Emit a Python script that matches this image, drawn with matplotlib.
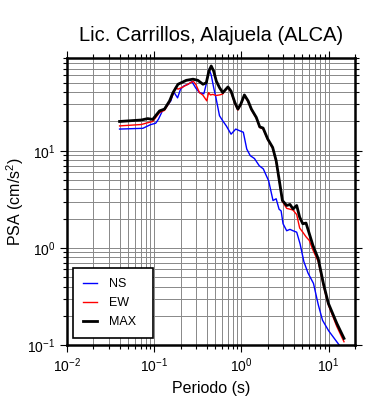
import numpy as np
import matplotlib.pyplot as plt

plt.rcParams['font.family'] = ['Liberation Sans', 'DejaVu Sans']
plt.rcParams['mathtext.fontset'] = 'custom'
plt.rcParams['mathtext.rm'] = 'Liberation Sans'
plt.rcParams['mathtext.it'] = 'Liberation Sans:italic'

# Espectros de respuesta (periodo en s, PSA en cm/s^2)
per_max = [0.040, 0.071, 0.084, 0.096, 0.115, 0.131, 0.150, 0.164, 0.187, 0.233,
           0.278, 0.316, 0.362, 0.395, 0.423, 0.450, 0.48, 0.515, 0.56, 0.61,
           0.70, 0.76, 0.84, 0.91, 0.98, 1.08, 1.19, 1.30, 1.48, 1.62,
           1.77, 2.0, 2.28, 2.5, 2.72, 2.95, 3.3, 3.6, 3.9, 4.3,
           4.65, 5.05, 5.5, 6.0, 6.6, 7.6, 8.7, 9.9, 12.4, 15.0]
psa_max = [20.0, 20.7, 21.4, 21.0, 25.7, 26.8, 32.6, 39.6, 48.3, 53.0,
           54.5, 53.0, 48.3, 50.0, 66.0, 74.5, 66.0, 52.0, 44.6, 39.6,
           45.3, 41.0, 31.3, 26.8, 30.0, 37.5, 32.6, 26.8, 22.0, 17.6,
           17.1, 13.2, 10.8, 7.9, 4.9, 3.07, 2.73, 2.8, 2.52, 2.73,
           2.07, 1.77, 1.8, 1.40, 1.06, 0.77, 0.43, 0.27, 0.167, 0.117]

per_ew = [0.040, 0.071, 0.084, 0.096, 0.115, 0.131, 0.150, 0.164, 0.175, 0.187,
          0.21, 0.24, 0.28, 0.30, 0.33, 0.36, 0.40, 0.42, 0.44, 0.47,
          0.51, 0.56, 0.61, 0.65, 0.70, 0.76, 0.84, 0.91, 0.98, 1.08,
          1.19, 1.30, 1.48, 1.62, 1.77, 2.0, 2.28, 2.5, 2.72, 2.95,
          3.3, 3.6, 3.9, 4.3, 4.65, 5.05, 5.5, 6.0, 6.6, 7.6,
          8.7, 9.9, 12.4, 15.0]
psa_ew = [18.0, 18.6, 19.4, 20.0, 24.7, 26.0, 31.8, 38.0, 44.6, 43.0,
          45.0, 48.0, 52.0, 48.0, 39.6, 37.4, 32.6, 39.6, 37.5, 38.0,
          37.0, 37.5, 38.3, 42.0, 44.5, 40.0, 30.5, 26.2, 29.5, 37.0,
          32.0, 26.3, 21.6, 17.3, 16.8, 13.0, 10.6, 7.7, 4.8, 3.0,
          2.55, 2.5, 2.45, 2.2, 1.6, 1.45, 1.3, 1.19, 0.95, 0.72,
          0.41, 0.26, 0.155, 0.108]

per_ns = [0.040, 0.074, 0.090, 0.104, 0.112, 0.125, 0.140, 0.155, 0.165, 0.168,
          0.185, 0.20, 0.22, 0.245, 0.27, 0.30, 0.33, 0.37, 0.40, 0.425,
          0.45, 0.48, 0.51, 0.56, 0.61, 0.67, 0.76, 0.86, 0.96, 1.05,
          1.15, 1.26, 1.41, 1.60, 1.78, 2.05, 2.3, 2.5, 2.7, 2.85,
          3.0, 3.3, 3.6, 3.9, 4.3, 4.7, 5.2, 5.8, 6.7, 7.6,
          8.5, 10.0, 13.2]
psa_ns = [16.7, 17.0, 18.5, 19.2, 21.2, 26.1, 29.0, 32.6, 39.6, 40.0,
          35.0, 43.0, 46.6, 48.3, 51.5, 44.0, 39.6, 38.5, 50.8, 69.0,
          60.0, 44.6, 35.0, 22.9, 20.3, 18.0, 14.8, 16.7, 16.0, 15.5,
          10.4, 8.9, 8.3, 7.0, 6.5, 4.9, 3.07, 3.2, 2.5, 2.4,
          1.77, 1.5, 1.55, 1.5, 1.45, 1.1, 0.72, 0.55, 0.43, 0.26,
          0.18, 0.14, 0.10]

fig = plt.figure(figsize=(3.9, 4.0), dpi=100)
ax = fig.add_axes([0.172, 0.1375, 0.738, 0.7175])

ax.plot(per_ns, psa_ns, color='#0000ff', lw=1.0, label='NS')
ax.plot(per_ew, psa_ew, color='#ff0000', lw=1.0, label='EW')
ax.plot(per_max, psa_max, color='black', lw=2.0, label='MAX')

ax.set_xscale('log')
ax.set_yscale('log')
ax.set_xlim(0.01, 20)
ax.set_ylim(0.1, 90)

ax.grid(True, which='both', color='#888888', lw=0.7)
ax.set_axisbelow(True)
for s in ax.spines.values():
    s.set_linewidth(1.8)
ax.tick_params(which='both', direction='out', top=True, right=True,
               labelsize=10, width=0.8)
ax.tick_params(which='major', length=5)
ax.tick_params(which='minor', length=3)

ax.set_xlabel('Periodo (s)', fontsize=11.5)
ax.set_ylabel('PSA (cm/s$^2$)', fontsize=11.5, labelpad=1)
ax.set_title('Lic. Carrillos, Alajuela (ALCA)', fontsize=14.5, pad=12)

leg = ax.legend(loc='lower left', bbox_to_anchor=(0.021, 0.024, 0.278, 0.246),
                mode='expand', borderaxespad=0, fontsize=9, handlelength=1.1,
                handletextpad=1.0, fancybox=False, framealpha=1,
                edgecolor='black', borderpad=0.8, labelspacing=0.55)
leg.get_frame().set_linewidth(1.2)

fig.savefig('out.png', dpi=100)
